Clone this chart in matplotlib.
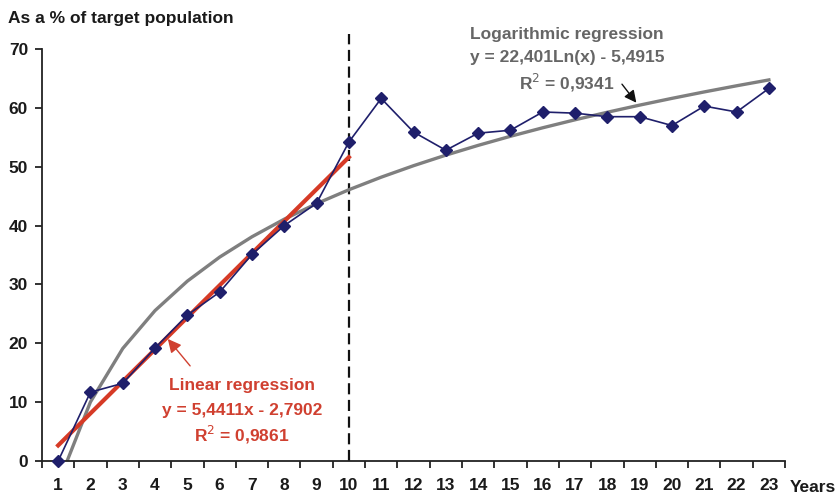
import numpy as np
import matplotlib
matplotlib.use("Agg")
import matplotlib.pyplot as plt

plt.rcParams['font.family'] = ['Liberation Sans', 'DejaVu Sans']

years = list(range(1, 24))
share = [0.0, 11.7, 13.2, 19.2, 24.8, 28.7, 35.1, 40.0, 43.8, 54.2, 61.6, 55.9,
         52.8, 55.7, 56.2, 59.3, 59.1, 58.5, 58.5, 57.0, 60.3, 59.3, 63.3]
lin_slope, lin_icpt = 5.4411, -2.7902
log_coef, log_icpt = 22.401, -5.4915
yticks = [0, 10, 20, 30, 40, 50, 60, 70]

FS = 12.5
fig = plt.figure(figsize=(8.38, 4.97), dpi=100)
ax = fig.add_axes([0.0501, 0.0724, 0.8867, 0.829])
ax.set_xlim(0.5, 23.5)
ax.set_ylim(0, 70)

x = np.array(years, dtype=float)
# log regression curve (from its zero crossing)
x0 = np.exp(-log_icpt / log_coef)
xl = np.concatenate([[x0], x[x > x0]])
ax.plot(xl, log_coef * np.log(xl) + log_icpt, color='#7f7f7f', lw=2.4, zorder=2)
# linear regression
xr = np.array([1, 10], dtype=float)
ax.plot(xr, lin_slope * xr + lin_icpt, color='#d63a26', lw=3, zorder=3)
# data
ax.plot(x, share, color='#1f1f6b', lw=1.2, marker='D', ms=5.8, zorder=4, clip_on=False)

# vertical dashed line
ax.plot([10, 10], [0, 72.5], color='#111111', lw=1.6, ls=(0, (5, 2.5)), clip_on=False, zorder=1)

# spines
for s in ['top', 'right']:
    ax.spines[s].set_visible(False)
for s in ['left', 'bottom']:
    ax.spines[s].set_color('#222222')
    ax.spines[s].set_linewidth(1.3)

ax.set_yticks(yticks)
ax.set_yticklabels([str(v) for v in yticks], fontsize=FS, fontweight='bold', color='#1a1a1a')
ax.set_xticks(years)
ax.set_xticklabels([str(v) for v in years], fontsize=FS, fontweight='bold', color='#1a1a1a')
ax.tick_params(axis='x', length=0, pad=12)
ax.set_xticks(np.arange(0.5, 24, 1), minor=True)
ax.tick_params(axis='x', which='minor', length=5, width=1.3, color='#222222', direction='out')
ax.tick_params(axis='y', length=5, width=1.3, color='#222222', direction='out', pad=5)

fig.text(8 / 838, 1 - 18 / 497, 'As a % of target population', fontsize=FS, fontweight='bold',
         color='#1a1a1a', va='center', ha='left')
fig.text(790 / 838, 1 - 487 / 497, 'Years', fontsize=FS, fontweight='bold',
         color='#1a1a1a', va='center', ha='left')

# annotations
log_c = '#666666'
ax.annotate('', xy=(18.95, 60.5), xytext=(18.4, 64.4),
            arrowprops=dict(arrowstyle='-|>', color='#111111', lw=1.0, mutation_scale=18))
ax.text(16.75, 72.4, 'Logarithmic regression', fontsize=FS, fontweight='bold', color=log_c,
        ha='center', va='center', clip_on=False)
ax.text(16.75, 68.5, 'y = 22,401Ln(x) - 5,4915', fontsize=FS, fontweight='bold', color=log_c,
        ha='center', va='center', clip_on=False)
ax.text(16.75, 64.3, 'R$^2$ = 0,9341', fontsize=FS, fontweight='bold', color=log_c,
        ha='center', va='center', clip_on=False)

red = '#d04030'
ax.annotate('', xy=(4.34, 21.1), xytext=(5.14, 15.8),
            arrowprops=dict(arrowstyle='-|>', color=red, lw=1.0, mutation_scale=20))
ax.text(6.69, 12.9, 'Linear regression', fontsize=FS, fontweight='bold', color=red,
        ha='center', va='center')
ax.text(6.69, 8.5, 'y = 5,4411x - 2,7902', fontsize=FS, fontweight='bold', color=red,
        ha='center', va='center')
ax.text(6.69, 4.4, 'R$^2$ = 0,9861', fontsize=FS, fontweight='bold', color=red,
        ha='center', va='center')

fig.savefig('out.png', dpi=100)
